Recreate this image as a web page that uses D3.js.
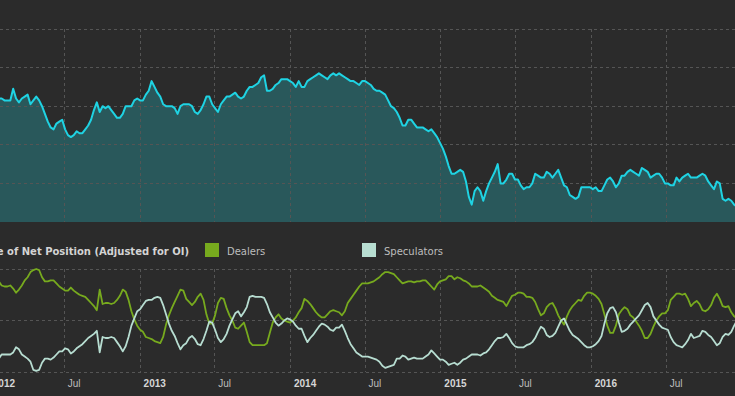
<!DOCTYPE html>
<meta charset="utf-8">
<style>
body { margin: 0; background: #2b2b2b; }
svg { display: block; font-family: "DejaVu Sans", Verdana, sans-serif; }
.grid line { stroke: #555; stroke-dasharray: 3,3; shape-rendering: crispEdges; }
.axis text { fill: #bdbdbd; font-size: 10px; }
.axis text.year { fill: #d6d6d6; font-weight: bold; font-size: 10px; }
.legend text { fill: #bdbdbd; font-size: 10px; }
</style>
<body>
<script src="https://d3js.org/d3.v7.min.js"></script>
<script>
// weekly reports, first one on this date
var firstWeek = "2012-01-24";

// top panel (scaled 0-100, grid every 20)
var netPosition = [
  64,64,63,63,63,69,64,62,64,65, 66,61,63,65,63,60,56,52,49,48,
  51,52,53,48,45,44,45,47,46,46, 48,50,53,58,62,57,60,59,60,58,
  56,54,54,56,60,60,60,63,64,63, 63,66,68,73,70,67,65,61,60,60,
  60,59,56,60,61,61,61,60,57,56, 58,61,65,65,61,59,57,61,63,65,
  65,66,67,65,64,65,68,70,70,71, 72,75,76,68,68,69,71,72,74,74,
  74,73,72,70,73,70,70,73,74,75, 76,77,76,75,74,76,77,76,77,76,
  75,74,73,73,72,71,73,73,72,71, 69,68,68,67,66,63,60,59,57,54,
  50,50,53,53,51,49,49,49,48,47, 48,46,44,41,38,34,29,25,25,26,
  27,26,21,13,9,16,18,16,11,16, 20,23,26,30,20,20,22,25,25,22,
  22,19,17,18,18,20,25,24,23,23, 26,25,23,25,27,23,19,18,14,13,
  12,13,18,18,18,18,17,18,16,16, 19,22,23,21,18,20,24,24,26,27,
  26,25,24,28,27,26,23,24,25,25, 23,20,20,19,19,23,21,23,24,25,
  23,23,23,24,25,24,21,19,17,21, 20,12,11,12,11,9,8
];

// bottom panel, percentile 0-100
var dealers = [
  88,84,83,83,84,81,77,80,84,89, 92,97,99,100,99,92,88,88,89,89,
  86,83,81,79,79,82,79,77,75,74, 73,70,67,64,60,80,66,67,67,66,
  67,70,74,80,78,70,59,51,45,41, 39,34,33,32,30,29,28,34,46,55,
  62,68,74,80,79,71,68,65,68,73, 76,70,56,47,47,55,67,72,71,62,
  55,50,43,42,45,48,39,29,26,26, 26,26,26,28,38,48,53,56,52,50,
  49,48,50,53,58,62,71,69,66,62, 58,55,53,53,56,59,60,59,58,55,
  59,67,71,75,79,83,86,86,86,87, 88,90,92,95,97,97,96,95,92,89,
  86,87,88,88,87,88,88,89,89,86, 83,80,85,88,89,90,93,93,90,92,
  91,89,88,86,83,83,83,84,82,80, 78,74,72,70,69,68,64,69,74,75,
  77,77,76,73,73,72,68,61,55,57, 63,66,67,62,55,50,46,54,60,64,
  67,70,69,74,77,77,76,74,71,66, 56,45,38,38,45,56,60,63,61,55,
  53,49,45,40,33,33,37,44,50,54, 57,57,60,70,73,76,76,75,76,71,
  64,67,69,66,60,59,61,65,72,76, 71,64,63,64,58,54,52
];

var speculators = [
  13,17,17,17,17,19,24,22,17,15, 13,10,2,1,2,9,13,13,12,14,
  17,20,20,23,22,18,20,23,25,27, 30,33,35,37,40,19,34,33,33,34,
  33,29,25,20,25,34,45,52,59,61, 65,69,70,70,72,73,72,65,56,47,
  40,35,28,22,26,28,33,35,32,27, 26,32,40,49,48,41,33,29,32,37,
  45,51,57,59,54,58,63,73,74,73, 73,73,72,66,58,53,48,45,47,50,
  52,51,49,45,42,42,35,29,33,36, 40,44,47,46,44,41,40,43,43,46,
  40,33,27,23,19,17,15,15,15,14, 13,12,10,6,4,5,6,7,13,13,
  16,15,12,13,14,13,13,13,15,17, 21,18,15,12,12,10,7,8,9,7,
  9,12,13,15,17,17,17,16,18,19, 22,26,30,33,33,34,37,33,28,25,
  24,24,24,26,27,29,33,39,44,42, 36,34,35,38,44,50,52,46,40,36,
  34,32,29,26,24,24,25,27,30,35, 47,57,62,63,58,48,39,40,42,46,
  49,52,55,60,65,67,63,54,50,46, 43,42,41,34,29,26,25,24,27,31,
  37,33,34,35,40,39,36,34,30,26, 28,34,37,36,39,45,50
];

var topTicks = [0, 20, 40, 60, 80, 100];
var bottomTicks = [0, 50, 100];
var legendTitle = "Percentile of Net Position (Adjusted for OI)";
var seriesNames = ["Dealers", "Speculators"];
var seriesColors = ["#77aa1e", "#b7ddd1"];

var width = 735, height = 396;

var parse = d3.timeParse("%Y-%m-%d");
var start = parse(firstWeek);
var weeks = netPosition.map(function(d, i) { return d3.timeWeek.offset(start, i); });

var x = d3.scaleTime()
    .domain([new Date(2012, 0, 27), new Date(2016, 11, 15)])
    .range([0, width]);

var yTop = d3.scaleLinear().domain([0, 100]).range([222, 29]);
var yBot = d3.scaleLinear().domain([0, 100]).range([372, 269]);

var svg = d3.select("body").append("svg")
    .attr("width", width)
    .attr("height", height);

svg.append("rect")
    .attr("width", width)
    .attr("height", height)
    .attr("fill", "#2b2b2b");

var halfYears = x.ticks(d3.timeMonth.every(6));

// top area
var area = d3.area()
    .x(function(d, i) { return x(weeks[i]); })
    .y0(yTop(0))
    .y1(function(d) { return yTop(d); });

var line = d3.line()
    .x(function(d, i) { return x(weeks[i]); })
    .y(function(d) { return yTop(d); });

svg.append("path")
    .datum(netPosition)
    .attr("fill", "#29585b")
    .attr("d", area);

var gridTop = svg.append("g").attr("class", "grid");

gridTop.selectAll(".h")
    .data(topTicks.slice(1))
  .enter().append("line")
    .attr("x1", 0)
    .attr("x2", width)
    .attr("y1", function(d) { return yTop(d); })
    .attr("y2", function(d) { return yTop(d); });

gridTop.selectAll(".v")
    .data(halfYears)
  .enter().append("line")
    .attr("x1", function(d) { return x(d); })
    .attr("x2", function(d) { return x(d); })
    .attr("y1", yTop(100))
    .attr("y2", yTop(0));

svg.append("path")
    .datum(netPosition)
    .attr("fill", "none")
    .attr("stroke", "#1fd3e3")
    .attr("stroke-width", 2)
    .attr("stroke-linejoin", "round")
    .attr("d", line);

// legend
var legend = svg.append("g").attr("class", "legend");

legend.append("text")
    .attr("x", 189)
    .attr("y", 254.5)
    .style("text-anchor", "end")
    .style("font-weight", "bold")
    .style("fill", "#d4d4d4")
    .text(legendTitle);

var legendX = [205, 362];
seriesNames.forEach(function(name, i) {
  legend.append("rect")
      .attr("x", legendX[i])
      .attr("y", 243)
      .attr("width", 14)
      .attr("height", 14)
      .attr("fill", seriesColors[i]);
  legend.append("text")
      .attr("x", legendX[i] + 22)
      .attr("y", 254.5)
      .text(name);
});

// bottom panel
var gridBot = svg.append("g").attr("class", "grid");

gridBot.selectAll(".h")
    .data(bottomTicks)
  .enter().append("line")
    .attr("x1", 0)
    .attr("x2", width)
    .attr("y1", function(d) { return yBot(d); })
    .attr("y2", function(d) { return yBot(d); });

gridBot.selectAll(".v")
    .data(halfYears)
  .enter().append("line")
    .attr("x1", function(d) { return x(d); })
    .attr("x2", function(d) { return x(d); })
    .attr("y1", yBot(100))
    .attr("y2", yBot(0));

var lineBot = d3.line()
    .x(function(d, i) { return x(weeks[i]); })
    .y(function(d) { return yBot(d); });

[dealers, speculators].forEach(function(series, i) {
  svg.append("path")
      .datum(series)
      .attr("fill", "none")
      .attr("stroke", seriesColors[i])
      .attr("stroke-width", 1.8)
      .attr("stroke-linejoin", "round")
      .attr("d", lineBot);
});

// x axis
var xAxis = d3.axisBottom(x)
    .tickValues(d3.timeMonth.every(6).range(new Date(2011, 11, 1), new Date(2017, 0, 1)))
    .tickSize(0)
    .tickFormat(function(d) { return d.getMonth() === 0 ? d3.timeFormat("%Y")(d) : d3.timeFormat("%b")(d); });

var axisG = svg.append("g")
    .attr("class", "axis")
    .attr("transform", "translate(0," + yBot(0) + ")")
    .call(xAxis);

axisG.select(".domain").remove();
axisG.selectAll("text")
    .attr("x", 3)
    .attr("y", 14.5)
    .attr("dy", null)
    .attr("text-anchor", "start")
    .attr("font-family", null)
    .attr("font-size", null)
    .attr("fill", null)
    .attr("class", function(d) { return d.getMonth() === 0 ? "year" : null; });
</script>
